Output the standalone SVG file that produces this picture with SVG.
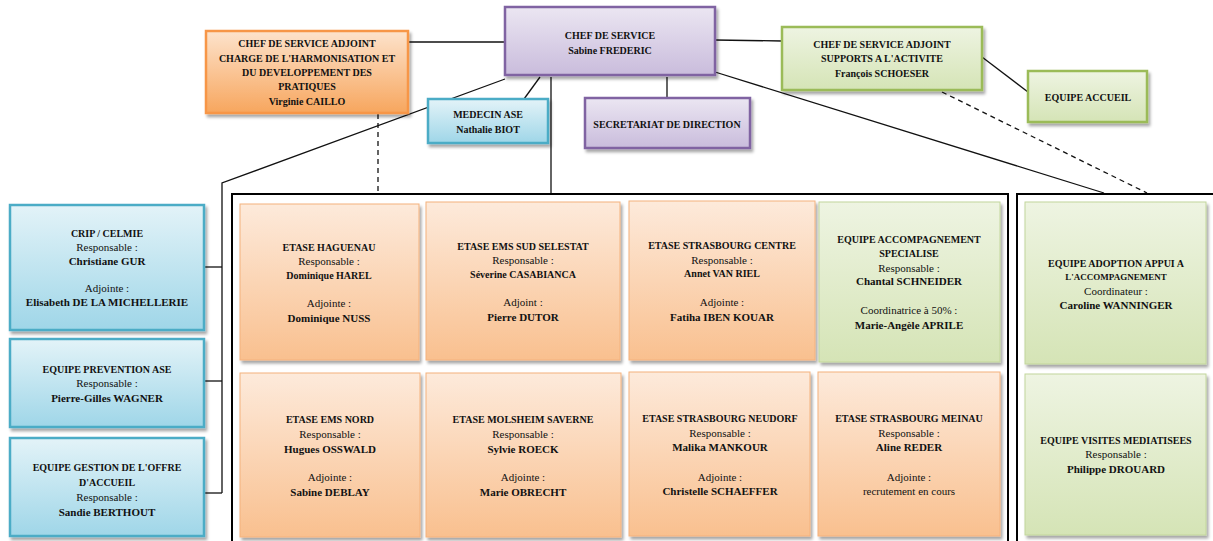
<svg xmlns="http://www.w3.org/2000/svg" width="1213" height="541" viewBox="0 0 1213 541">
<defs>
<linearGradient id="gOr" x1="0" y1="0" x2="0" y2="1"><stop offset="0" stop-color="#fdeadb"/><stop offset="1" stop-color="#f9c08f"/></linearGradient>
<linearGradient id="gOr2" x1="0" y1="0" x2="0" y2="1"><stop offset="0" stop-color="#fde3cc"/><stop offset="1" stop-color="#f7a65e"/></linearGradient>
<linearGradient id="gGr" x1="0" y1="0" x2="0" y2="1"><stop offset="0" stop-color="#eef4e2"/><stop offset="1" stop-color="#d5e4b6"/></linearGradient>
<linearGradient id="gBl" x1="0" y1="0" x2="0" y2="1"><stop offset="0" stop-color="#e3f3f8"/><stop offset="1" stop-color="#9fd6e8"/></linearGradient>
<linearGradient id="gPu" x1="0" y1="0" x2="0" y2="1"><stop offset="0" stop-color="#ebe6f2"/><stop offset="1" stop-color="#c9bcdc"/></linearGradient>
<filter id="sh" x="-10%" y="-10%" width="125%" height="125%"><feDropShadow dx="2" dy="3" stdDeviation="1.5" flood-color="#000" flood-opacity="0.35"/></filter>
</defs>
<style>
text{font-family:"Liberation Serif","Times New Roman",serif;text-anchor:middle;fill:#111}
.t{font-size:10px;font-weight:bold}
.n{font-size:11px;font-weight:bold}
.r{font-size:11px}
.or{fill:url(#gOr);stroke:#f4b27c;stroke-width:1}
.or2{fill:url(#gOr2);stroke:#f79646;stroke-width:2.5}
.gr{fill:url(#gGr);stroke:#9bbb59;stroke-width:2.5}
.gr1{fill:url(#gGr);stroke:#c2d69b;stroke-width:1}
.bl{fill:url(#gBl);stroke:#4bacc6;stroke-width:2.5}
.pu{fill:url(#gPu);stroke:#8064a2;stroke-width:2.5}
.ln{stroke:#111;stroke-width:1.3;fill:none}
.ds{stroke:#111;stroke-width:1.3;fill:none;stroke-dasharray:5,4}
.frame{fill:none;stroke:#000;stroke-width:2}
</style>
<rect width="1213" height="541" fill="#fff"/>
<g id="connectors">
<line class="ln" x1="408" y1="42" x2="505" y2="42"/>
<line class="ln" x1="715" y1="40" x2="782" y2="41"/>
<line class="ln" x1="982" y1="57" x2="1028" y2="92"/>
<polyline class="ln" points="505,79 222,183 222,493"/>
<line class="ln" x1="204" y1="267" x2="222" y2="267"/>
<line class="ln" x1="204" y1="381" x2="222" y2="381"/>
<line class="ln" x1="204" y1="493" x2="222" y2="493"/>
<line class="ln" x1="540" y1="77" x2="524" y2="99"/>
<line class="ln" x1="551" y1="77" x2="551" y2="193"/>
<line class="ln" x1="667" y1="77" x2="667" y2="98"/>
<line class="ln" x1="715" y1="72" x2="1104" y2="193"/>
<line class="ds" x1="378" y1="114" x2="378" y2="193"/>
<line class="ds" x1="942" y1="92" x2="1147" y2="193"/>
</g>
<g id="frames">
<rect class="frame" x="232" y="194" width="776" height="360"/>
<rect class="frame" x="1017" y="194" width="210" height="360"/>
</g>
<g id="chef"><rect class="pu" x="505" y="7" width="210" height="68" filter="url(#sh)"/><text class="t" x="610" y="39">CHEF DE SERVICE</text><text class="t" x="610" y="54">Sabine FREDERIC</text></g>
<g id="adjoint-harmonisation"><rect class="or2" x="206" y="31" width="202" height="82" filter="url(#sh)"/><text class="t" x="307" y="47">CHEF DE SERVICE ADJOINT</text><text class="t" x="307" y="62">CHARGE DE L'HARMONISATION ET</text><text class="t" x="307" y="76">DU DEVELOPPEMENT DES</text><text class="t" x="307" y="90">PRATIQUES</text><text class="t" x="307" y="105">Virginie CAILLO</text></g>
<g id="medecin"><rect class="bl" x="428" y="99" width="120" height="44" filter="url(#sh)"/><text class="t" x="488" y="118">MEDECIN ASE</text><text class="t" x="488" y="133">Nathalie BIOT</text></g>
<g id="secretariat"><rect class="pu" x="585" y="98" width="165" height="50" filter="url(#sh)"/><text class="t" x="667" y="128">SECRETARIAT DE DIRECTION</text></g>
<g id="adjoint-supports"><rect class="gr" x="782" y="27" width="200" height="63" filter="url(#sh)"/><text class="t" x="882" y="48">CHEF DE SERVICE ADJOINT</text><text class="t" x="882" y="62">SUPPORTS A L'ACTIVITE</text><text class="t" x="882" y="77">François SCHOESER</text></g>
<g id="accueil"><rect class="gr" x="1028" y="71" width="119" height="51" filter="url(#sh)"/><text class="t" x="1088" y="101">EQUIPE ACCUEIL</text></g>
<g id="crip"><rect class="bl" x="10" y="205" width="194" height="125" filter="url(#sh)"/><text class="t" x="107" y="237">CRIP / CELMIE</text><text class="r" x="107" y="251">Responsable :</text><text class="n" x="107" y="265">Christiane GUR</text><text class="r" x="107" y="292">Adjointe :</text><text class="n" x="107" y="306">Elisabeth DE LA MICHELLERIE</text></g>
<g id="prevention"><rect class="bl" x="10" y="339" width="194" height="88" filter="url(#sh)"/><text class="t" x="107" y="373">EQUIPE PREVENTION ASE</text><text class="r" x="107" y="387">Responsable :</text><text class="n" x="107" y="402">Pierre-Gilles WAGNER</text></g>
<g id="gestion"><rect class="bl" x="10" y="438" width="194" height="98" filter="url(#sh)"/><text class="t" x="107" y="471">EQUIPE GESTION DE L'OFFRE</text><text class="t" x="107" y="486">D'ACCUEIL</text><text class="r" x="107" y="501">Responsable :</text><text class="n" x="107" y="516">Sandie BERTHOUT</text></g>
<g id="haguenau"><rect class="or" x="240" y="204" width="179" height="156" filter="url(#sh)"/><text class="t" x="329" y="251">ETASE HAGUENAU</text><text class="r" x="329" y="265">Responsable :</text><text class="t" x="329" y="279">Dominique HAREL</text><text class="r" x="329" y="307">Adjointe :</text><text class="n" x="329" y="322">Dominique NUSS</text></g>
<g id="ems-sud"><rect class="or" x="426" y="202" width="194" height="158" filter="url(#sh)"/><text class="t" x="523" y="250">ETASE EMS SUD SELESTAT</text><text class="r" x="523" y="264">Responsable :</text><text class="t" x="523" y="278">Séverine CASABIANCA</text><text class="r" x="523" y="306">Adjoint :</text><text class="n" x="523" y="321">Pierre DUTOR</text></g>
<g id="strasbourg-centre"><rect class="or" x="629" y="201" width="186" height="159" filter="url(#sh)"/><text class="t" x="722" y="249">ETASE STRASBOURG CENTRE</text><text class="r" x="722" y="264">Responsable :</text><text class="t" x="722" y="277">Annet VAN RIEL</text><text class="r" x="722" y="306">Adjointe :</text><text class="n" x="722" y="321">Fatiha IBEN KOUAR</text></g>
<g id="accompagnement"><rect class="gr1" x="819" y="202" width="181" height="160" filter="url(#sh)"/><text class="t" x="909" y="243">EQUIPE ACCOMPAGNEMENT</text><text class="t" x="909" y="257">SPECIALISE</text><text class="r" x="909" y="272">Responsable :</text><text class="n" x="909" y="285">Chantal SCHNEIDER</text><text class="r" x="909" y="314">Coordinatrice à 50% :</text><text class="n" x="909" y="329">Marie-Angèle APRILE</text></g>
<g id="ems-nord"><rect class="or" x="240" y="373" width="180" height="164" filter="url(#sh)"/><text class="t" x="330" y="423">ETASE EMS NORD</text><text class="r" x="330" y="438">Responsable :</text><text class="n" x="330" y="453">Hugues OSSWALD</text><text class="r" x="330" y="481">Adjointe :</text><text class="n" x="330" y="496">Sabine DEBLAY</text></g>
<g id="molsheim"><rect class="or" x="426" y="373" width="195" height="164" filter="url(#sh)"/><text class="t" x="523" y="423">ETASE MOLSHEIM SAVERNE</text><text class="r" x="523" y="438">Responsable :</text><text class="n" x="523" y="453">Sylvie ROECK</text><text class="r" x="523" y="481">Adjointe :</text><text class="n" x="523" y="496">Marie OBRECHT</text></g>
<g id="neudorf"><rect class="or" x="629" y="372" width="181" height="164" filter="url(#sh)"/><text class="t" x="720" y="422">ETASE STRASBOURG NEUDORF</text><text class="r" x="720" y="437">Responsable :</text><text class="n" x="720" y="451">Malika MANKOUR</text><text class="r" x="720" y="481">Adjointe :</text><text class="n" x="720" y="495">Christelle SCHAEFFER</text></g>
<g id="meinau"><rect class="or" x="818" y="372" width="182" height="164" filter="url(#sh)"/><text class="t" x="909" y="422">ETASE STRASBOURG MEINAU</text><text class="r" x="909" y="437">Responsable :</text><text class="n" x="909" y="451">Aline REDER</text><text class="r" x="909" y="481">Adjointe :</text><text class="r" x="909" y="495">recrutement en cours</text></g>
<g id="adoption"><rect class="gr1" x="1025" y="202" width="181" height="162" filter="url(#sh)"/><text class="t" x="1116" y="267">EQUIPE ADOPTION APPUI A</text><text class="t" x="1116" y="280" style="font-size:9px">L'ACCOMPAGNEMENT</text><text class="r" x="1116" y="295">Coordinateur :</text><text class="n" x="1116" y="309">Caroline WANNINGER</text></g>
<g id="visites"><rect class="gr1" x="1025" y="374" width="181" height="161" filter="url(#sh)"/><text class="t" x="1116" y="444">EQUIPE VISITES MEDIATISEES</text><text class="r" x="1116" y="458">Responsable :</text><text class="n" x="1116" y="473">Philippe DROUARD</text></g>
</svg>
